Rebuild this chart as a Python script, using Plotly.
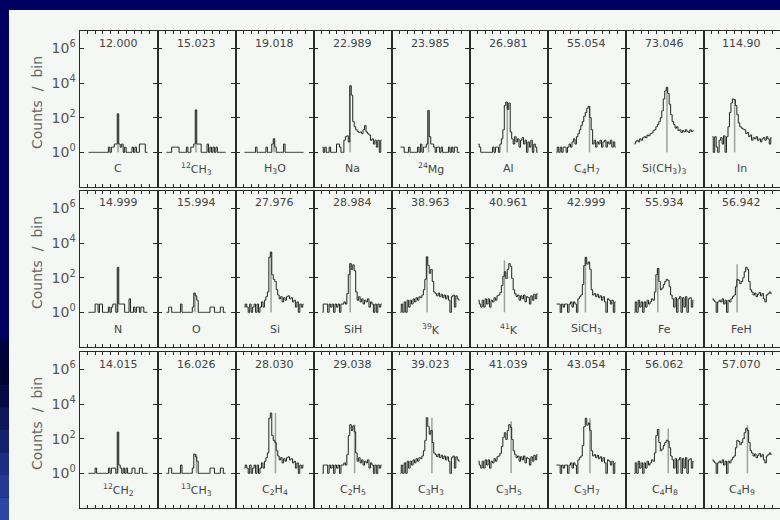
import plotly.graph_objects as go
import numpy as np

# ---------------- data (counts per bin) ----------------
row1_masses = ["12.000", "15.023", "19.018", "22.989", "23.985", "26.981", "55.054", "73.046", "114.90"]
row1_species = ["C", "<sup>12</sup>CH<sub>3</sub>", "H<sub>3</sub>O", "Na", "<sup>24</sup>Mg", "Al",
                "C<sub>4</sub>H<sub>7</sub>", "Si(CH<sub>3</sub>)<sub>3</sub>", "In"]
row2_masses = ["14.999", "15.994", "27.976", "28.984", "38.963", "40.961", "42.999", "55.934", "56.942"]
row2_species = ["N", "O", "Si", "SiH", "<sup>39</sup>K", "<sup>41</sup>K", "SiCH<sub>3</sub>", "Fe", "FeH"]
row3_masses = ["14.015", "16.026", "28.030", "29.038", "39.023", "41.039", "43.054", "56.062", "57.070"]
row3_species = ["<sup>12</sup>CH<sub>2</sub>", "<sup>13</sup>CH<sub>3</sub>", "C<sub>2</sub>H<sub>4</sub>",
                "C<sub>2</sub>H<sub>5</sub>", "C<sub>3</sub>H<sub>3</sub>", "C<sub>3</sub>H<sub>5</sub>",
                "C<sub>3</sub>H<sub>7</sub>", "C<sub>4</sub>H<sub>8</sub>", "C<sub>4</sub>H<sub>9</sub>"]

spec_C = [1,1,1,1,1,1,1,1,1,1, 1,1,1,1,2,1,2,2,3,3, 166,3,2,3,1,2,1,1,1,1, 2,1,2,1,1,3,3,3,3,1, 1]
spec_12CH3 = [1,1,1,1,2,2,2,2,2,1, 1,1,1,1,2,1,1,2,2,3, 280,3,3,3,1,1,1,1,3,1, 2,1,2,1,2,1,1,1,1,1, 1]
spec_H3O = [1,1,1,1,1,1,1,1,2,1, 1,1,1,1,1,2,1,1,1,3, 6,2,1,1,1,1,1,3,1,1, 1,1,1,1,1,1,1,1,1,1, 1]
spec_Na = [2,1,2,1,1,2,1,1,1,1, 3,3,2,1,1,5,8,9,4,7000, 2000,60,30,20,16,14,15,12,20,35, 15,12,10,5,6,3,5,2,5,1, 5]
spec_24Mg = [2,2,2,1,1,1,2,1,1,1, 1,1,2,1,3,1,2,2,3,260, 8,3,3,2,1,2,2,1,2,1, 1,1,1,2,1,2,1,2,2,1, 1]
spec_Al = [3,2,1,1,1,1,1,1,1,1, 2,1,2,2,1,3,6,20,500,800, 300,700,15,6,3,8,4,6,2,5, 7,3,5,1,4,2,5,1,3,2, 1]
spec_C4H7 = [1,2,1,2,1,2,2,1,2,3, 2,4,6,3,8,12,20,35,60,120, 200,350,450,100,20,3,5,2,4,3, 5,2,4,5,2,4,3,5,2,4, 2]
spec_SiCH33 = [3,4,5,4,6,5,7,8,7,10, 9,12,13,18,20,30,40,60,100,250, 1200,3500,5600,2500,600,150,60,40,25,30,
               18,20,14,18,15,20,16,14,20,16, 18]
spec_In = [8,1,8,2,1,5,7,3,9,1, 8,30,200,700,1200,1100,500,150,50,30, 25,22,20,12,14,8,10,5,7,6,
           8,5,6,4,6,7,5,8,6,3, 7]

spec_N = [1,1,1,1,1,3,3,1,3,3, 1,1,1,1,2,1,2,3,3,1, 390,3,3,3,3,1,1,1,6,1, 1,2,1,2,2,1,2,2,1,1, 1]
spec_CH2 = [1,1,1,1,1,2,1,1,1,1, 1,1,1,1,2,1,2,2,2,1, 240,3,2,1,2,1,2,1,1,1, 2,2,1,1,1,2,2,1,1,1, 1]
spec_m16 = [1,1,2,2,1,1,1,1,1,1, 3,1,1,1,1,1,1,1,2,13, 9,5,1,1,1,1,1,1,1,1, 2,2,2,1,1,1,1,2,2,1, 1]
spec_m28 = [2,3,2,1,3,1,2,3,1,3, 1,2,4,2,5,8,15,1500,3000,150, 80,60,20,10,6,8,4,7,5,8, 9,6,7,4,5,2,4,1,3,2, 3]
spec_m29 = [1,3,3,3,1,3,2,3,1,3, 2,3,1,3,3,4,3,12,150,650, 300,550,250,15,5,8,4,6,3,5, 4,6,2,4,3,1,3,1,3,2, 3]
spec_m39 = [1,3,1,4,1,5,2,5,3,6, 4,7,5,8,7,10,20,80,1600,500, 180,300,60,15,12,9,13,8,11,7,
            10,6,9,5,1,8,10,2,9,6, 5]
spec_m41 = [5,3,2,5,2,6,3,6,2,5, 4,7,5,9,10,14,35,120,220,90, 300,650,450,90,20,12,8,10,5,9,
            6,10,4,8,7,3,9,5,11,6, 12]
spec_m43 = [3,3,3,1,3,2,3,3,1,3, 4,2,4,3,1,6,8,10,40,500, 1500,600,800,300,20,10,12,8,11,7,
            9,5,8,4,1,6,5,3,5,1, 4]
spec_m56 = [1,4,1,5,2,4,1,4,2,5, 3,4,6,5,15,150,340,60,20,25, 40,60,80,70,30,10,6,2,7,1,
            6,8,1,7,2,8,1,6,7,2, 5]
spec_m57 = [6,5,4,1,4,5,4,6,3,5, 1,5,4,6,8,10,30,80,70,45, 60,100,220,400,300,60,20,15,10,13,
            8,11,14,9,12,6,4,10,12,15, 12]

row1_spectra = [spec_C, spec_12CH3, spec_H3O, spec_Na, spec_24Mg, spec_Al, spec_C4H7, spec_SiCH33, spec_In]
row2_spectra = [spec_N, spec_m16, spec_m28, spec_m29, spec_m39, spec_m41, spec_m43, spec_m56, spec_m57]
row3_spectra = [spec_CH2, spec_m16, spec_m28, spec_m29, spec_m39, spec_m41, spec_m43, spec_m56, spec_m57]

# exact-mass marker (bin position and height)
row1_line_pos = [20, 20, 20, 18.7, 19, 19.5, 22.4, 22, 15]
row1_line_top = [166, 280, 6, 7000, 260, 800, 450, 5600, 1200]
row2_line_pos = [20, 19.3, 18, 18.8, 18, 17.6, 19.6, 15.8, 16.7]
row2_line_top = [390, 13, 3000, 650, 1600, 1000, 1500, 340, 600]
row3_line_pos = [20, 20.3, 21, 21.8, 21.3, 22.1, 22.7, 22.9, 23.7]
row3_line_top = [240, 13, 3000, 650, 1600, 1000, 1500, 380, 600]

ytick_vals = [1, 1e2, 1e4, 1e6]
ytick_text = ["10<sup>0</sup>", "10<sup>2</sup>", "10<sup>4</sup>", "10<sup>6</sup>"]

# ---------------- layout geometry ----------------
W, H = 780, 520
NAVY = "#000060"
PANEL = "#f4f7f3"
FRAME = "#2a2a2a"
TXT = "#444444"

col_left = [79.5 + 78 * c for c in range(9)]
col_right = [min(l + 78, 780) for l in col_left]
row_top = [31, 191, 352]
row_bot = [187, 347, 508]
px_per_bin = 1.475
x_min = -6.1

rows = [
    (row1_masses, row1_species, row1_spectra, row1_line_pos, row1_line_top),
    (row2_masses, row2_species, row2_spectra, row2_line_pos, row2_line_top),
    (row3_masses, row3_species, row3_spectra, row3_line_pos, row3_line_top),
]

fig = go.Figure()
layout = {}
annotations = []
idx = 0
for r, (masses, species, spectra, lpos, ltop) in enumerate(rows):
    for c in range(9):
        idx += 1
        xs = "" if idx == 1 else str(idx)
        xname, yname = "xaxis" + xs, "yaxis" + xs
        xref, yref = "x" + xs, "y" + xs
        width_px = col_right[c] - col_left[c]
        x_max = x_min + width_px / px_per_bin
        layout[xname] = dict(
            domain=[col_left[c] / W, col_right[c] / W], anchor=yref,
            range=[x_min, x_max], showgrid=False, zeroline=False,
            showline=True, linecolor=FRAME, linewidth=1.1, mirror="ticks",
            ticks="inside", ticklen=3, tickwidth=1, tickcolor=FRAME,
            tickvals=list(np.arange(x_min, x_max + 0.01, (x_max - x_min) / 10)),
            showticklabels=False,
        )
        layout[yname] = dict(
            domain=[1 - row_bot[r] / H, 1 - row_top[r] / H], anchor=xref,
            type="log", range=[-2, 7], showgrid=False, zeroline=False,
            showline=True, linecolor=FRAME, linewidth=1.1, mirror="ticks",
            ticks="inside", ticklen=4, tickwidth=1, tickcolor=FRAME,
            tickvals=ytick_vals, ticktext=ytick_text,
            showticklabels=(c == 0), ticklabelstandoff=0,
            tickfont=dict(family="DejaVu Sans", size=14, color="#555555"),
        )
        spec = spectra[c]
        # exact-mass marker drawn first, under the spectrum
        fig.add_trace(go.Scatter(
            x=[lpos[c], lpos[c]], y=[1, ltop[c]], mode="lines",
            line=dict(color="#a0a0a0", width=1.5), xaxis=xref, yaxis=yref,
            hoverinfo="skip", showlegend=False))
        fig.add_trace(go.Scatter(
            x=list(range(len(spec))), y=spec, mode="lines", line_shape="hvh",
            line=dict(color="#222222", width=1), xaxis=xref, yaxis=yref,
            hoverinfo="skip", showlegend=False))
        xc = (col_left[c] + col_right[c]) / 2 / W
        annotations.append(dict(
            text=masses[c], x=xc, y=1 - (row_top[r] + 12) / H, xref="paper", yref="paper",
            xanchor="center", yanchor="middle", showarrow=False,
            font=dict(family="DejaVu Sans", size=11, color=TXT)))
        annotations.append(dict(
            text=species[c], x=xc, y=1 - (row_top[r] + 138) / H, xref="paper", yref="paper",
            xanchor="center", yanchor="middle", showarrow=False,
            font=dict(family="DejaVu Sans", size=11, color=TXT)))
    annotations.append(dict(
        text="Counts\u00a0 /\u00a0 bin", x=37 / W, y=1 - (row_top[r] + 72) / H,
        xref="paper", yref="paper", xanchor="center", yanchor="middle",
        textangle=-90, showarrow=False,
        font=dict(family="DejaVu Sans", size=14, color="#666666")))

shapes = [dict(type="rect", xref="paper", yref="paper", x0=9 / W, x1=1, y0=0, y1=1 - 10 / H,
               fillcolor=PANEL, line=dict(width=0), layer="below")]
grad = ["#00003a", "#000030", "#050a45", "#0c1658", "#14226c", "#1c2e80", "#243a92", "#2c46a4"]
for i, col in enumerate(grad):
    y_a = 340 + i * 22.5
    shapes.append(dict(type="rect", xref="paper", yref="paper", x0=0, x1=9 / W,
                       y0=1 - (y_a + 22.5) / H, y1=1 - y_a / H,
                       fillcolor=col, line=dict(width=0), layer="below"))

fig.update_layout(
    width=W, height=H, margin=dict(l=0, r=0, t=0, b=0),
    paper_bgcolor=NAVY, plot_bgcolor=PANEL,
    annotations=annotations, shapes=shapes, showlegend=False,
    **layout)

fig.write_html("out.html")
